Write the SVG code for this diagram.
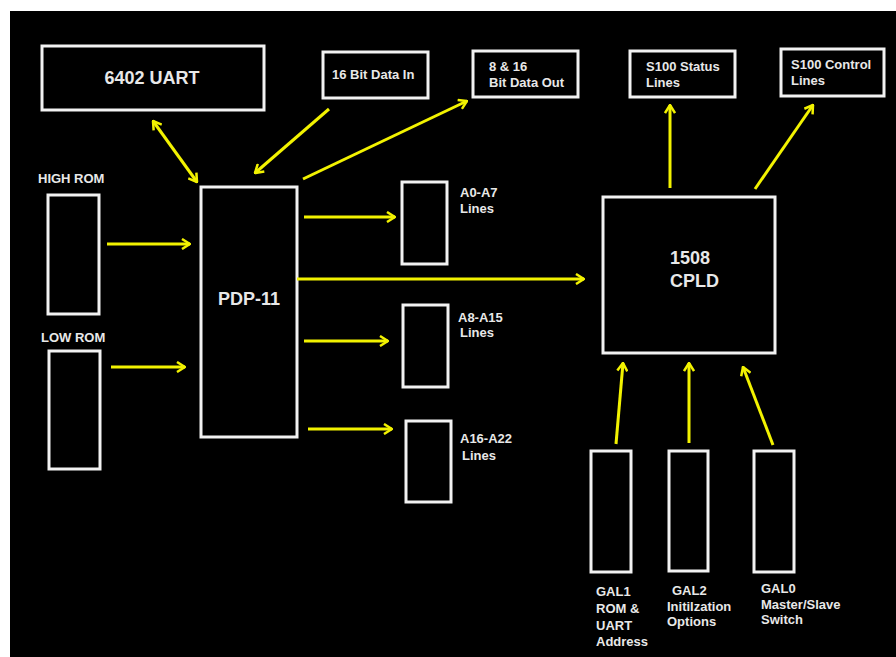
<svg xmlns="http://www.w3.org/2000/svg" width="896" height="657" viewBox="0 0 896 657">
<style>
.box{fill:#000;stroke:#f2f2f2;stroke-width:3}
.t{font-family:"Liberation Sans",Arial,sans-serif;font-weight:bold;fill:#e8e8e8}
.s{font-size:13px}
.b{font-size:18px}
.c line{stroke:#f2f200;stroke-width:3;fill:none}
</style>
<defs>
<marker id="ah" viewBox="0 0 10 12" refX="9" refY="6" markerWidth="10" markerHeight="12" markerUnits="userSpaceOnUse" orient="auto-start-reverse">
<path d="M1,1 L9,6 L1,11" fill="none" stroke="#f2f200" stroke-width="2.5"/>
</marker>
</defs>
<rect x="0" y="0" width="896" height="657" fill="#fff"/>
<rect x="10" y="11" width="886" height="646" fill="#000"/>
<g id="uart"><rect class="box" x="42" y="46" width="222" height="64"/><text class="t b" x="152" y="84" text-anchor="middle">6402 UART</text></g>
<g id="datain"><rect class="box" x="323" y="52" width="105" height="46"/><text class="t s" x="332" y="79">16 Bit Data In</text></g>
<g id="dataout"><rect class="box" x="473" y="51" width="105" height="46"/><text class="t s" x="489" y="71">8 &amp; 16</text><text class="t s" x="489" y="87">Bit Data Out</text></g>
<g id="s100status"><rect class="box" x="630" y="51" width="105" height="46"/><text class="t s" x="646" y="71">S100 Status</text><text class="t s" x="646" y="87">Lines</text></g>
<g id="s100control"><rect class="box" x="781" y="49" width="103" height="47"/><text class="t s" x="791" y="69">S100 Control</text><text class="t s" x="791" y="85">Lines</text></g>
<g id="highrom"><text class="t s" x="38" y="183">HIGH ROM</text><rect class="box" x="48" y="195" width="51" height="119"/></g>
<g id="lowrom"><text class="t s" x="41" y="342">LOW ROM</text><rect class="box" x="49" y="351" width="51" height="118"/></g>
<g id="pdp11"><rect class="box" x="201" y="187" width="96" height="250"/><text class="t b" x="249" y="305" text-anchor="middle">PDP-11</text></g>
<g id="a0a7"><rect class="box" x="402" y="182" width="45" height="82"/><text class="t s" x="460" y="197">A0-A7</text><text class="t s" x="460" y="213">Lines</text></g>
<g id="a8a15"><rect class="box" x="403" y="305" width="45" height="82"/><text class="t s" x="458" y="322">A8-A15</text><text class="t s" x="460" y="337">Lines</text></g>
<g id="a16a22"><rect class="box" x="406" y="421" width="45" height="81"/><text class="t s" x="460" y="443">A16-A22</text><text class="t s" x="462" y="460">Lines</text></g>
<g id="cpld"><rect class="box" x="603" y="197" width="172" height="156"/><text class="t b" x="670" y="264">1508</text><text class="t b" x="670" y="287">CPLD</text></g>
<g id="gal1"><rect class="box" x="591" y="451" width="40" height="121"/><text class="t s" x="596" y="596">GAL1</text><text class="t s" x="596" y="613">ROM &amp;</text><text class="t s" x="596" y="630">UART</text><text class="t s" x="596" y="646">Address</text></g>
<g id="gal2"><rect class="box" x="669" y="451" width="39" height="120"/><text class="t s" x="672" y="595">GAL2</text><text class="t s" x="667" y="611">Initilzation</text><text class="t s" x="667" y="626">Options</text></g>
<g id="gal0"><rect class="box" x="754" y="451" width="40" height="121"/><text class="t s" x="761" y="593">GAL0</text><text class="t s" x="761" y="609">Master/Slave</text><text class="t s" x="761" y="624">Switch</text></g>
<g id="connectors" class="c">
<line x1="153" y1="121" x2="197" y2="182" marker-start="url(#ah)" marker-end="url(#ah)"/>
<line x1="329" y1="109" x2="255" y2="173" marker-end="url(#ah)"/>
<line x1="303" y1="179" x2="467" y2="101" marker-end="url(#ah)"/>
<line x1="670" y1="188" x2="670" y2="105" marker-end="url(#ah)"/>
<line x1="755" y1="189" x2="813" y2="105" marker-end="url(#ah)"/>
<line x1="107" y1="244" x2="190" y2="244" marker-end="url(#ah)"/>
<line x1="111" y1="367" x2="185" y2="367" marker-end="url(#ah)"/>
<line x1="304" y1="217" x2="395" y2="217" marker-end="url(#ah)"/>
<line x1="297" y1="279" x2="584" y2="279" marker-end="url(#ah)"/>
<line x1="304" y1="341" x2="388" y2="341" marker-end="url(#ah)"/>
<line x1="308" y1="429" x2="392" y2="429" marker-end="url(#ah)"/>
<line x1="616" y1="444" x2="623" y2="363" marker-end="url(#ah)"/>
<line x1="689" y1="443" x2="689" y2="363" marker-end="url(#ah)"/>
<line x1="773" y1="445" x2="743" y2="367" marker-end="url(#ah)"/>
</g>
</svg>
